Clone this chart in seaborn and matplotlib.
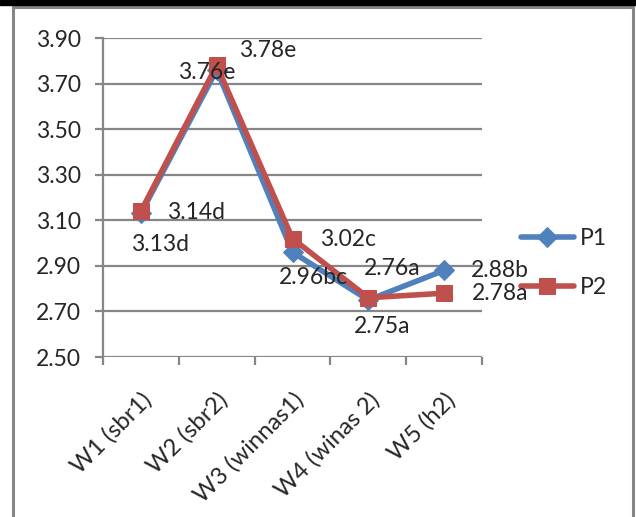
import matplotlib
matplotlib.use("Agg")
import matplotlib.pyplot as plt
from matplotlib.lines import Line2D
from matplotlib.patches import Rectangle
from matplotlib.transforms import ScaledTranslation
import seaborn as sns
import pandas as pd

# Weeks and the two treatment series
categories = ["W1 (sbr1)", "W2 (sbr2)", "W3 (winnas1)", "W4 (winas 2)", "W5 (h2)"]
p1_values = [3.13, 3.76, 2.96, 2.75, 2.88]
p2_values = [3.14, 3.78, 3.02, 2.76, 2.78]
p1_letters = ["d", "e", "bc", "a", "b"]
p2_letters = ["d", "e", "c", "a", "a"]
y_ticks = [2.50, 2.70, 2.90, 3.10, 3.30, 3.50, 3.70, 3.90]

BLUE = "#4F81BD"
RED = "#C0504D"
GRID = "#868686"
FONT = ["Lato", "DejaVu Sans"]
FS = 16.5
FS_X = 17.2

sns.set_theme(style="white")
plt.rcParams["font.family"] = FONT

W, H = 636, 517
fig = plt.figure(figsize=(W / 100, H / 100), dpi=100)
ax = fig.add_axes([103 / W, 1 - 357 / H, (482 - 103) / W, (357 - 38) / H])

pos = list(range(len(categories)))
df1 = pd.DataFrame({"pos": pos, "value": p1_values})
df2 = pd.DataFrame({"pos": pos, "value": p2_values})

for y in y_ticks:
    ax.axhline(y, color=GRID, lw=1.6, zorder=0)

sns.lineplot(data=df1, x="pos", y="value", ax=ax, color=BLUE, lw=4.0,
             marker="D", markersize=10, markeredgecolor=BLUE,
             markerfacecolor=BLUE, label="P1", zorder=3)
sns.lineplot(data=df2, x="pos", y="value", ax=ax, color=RED, lw=4.0,
             marker="s", markersize=12, markeredgecolor=RED,
             markerfacecolor=RED, label="P2", zorder=4)

ax.set_xlim(-0.5, len(categories) - 0.5)
ax.set_ylim(2.50, 3.90)
ax.set_yticks(y_ticks)
ax.set_yticklabels([f"{v:.2f}" for v in y_ticks], fontsize=FS)
ax.set_xticks([i - 0.5 for i in range(len(categories) + 1)])
ax.set_xticklabels([])
ax.set_xticks(pos, minor=True)
ax.set_xticklabels(categories, minor=True, rotation=45, ha="right",
                   va="top", rotation_mode="anchor", fontsize=FS_X)
shift = ScaledTranslation(6 / 100, 0, fig.dpi_scale_trans)
for lab in ax.get_xticklabels(minor=True):
    lab.set_transform(lab.get_transform() + shift)
ax.tick_params(axis="x", which="minor", length=0, pad=23)
ax.tick_params(axis="x", which="major", length=6, width=1.6, color=GRID,
               direction="out", bottom=True)
ax.tick_params(axis="y", length=6, width=1.6, color=GRID, direction="out",
               left=True, pad=10)
ax.set_xlabel("")
ax.set_ylabel("")
for side in ["top", "right", "bottom"]:
    ax.spines[side].set_visible(False)
ax.spines["left"].set_color(GRID)
ax.spines["left"].set_linewidth(1.6)
ax.grid(False)

# Data labels: value plus significance letter, offsets in points
p1_offsets = [(14, -22), (-7, -2), (15, -18), (10, -19), (40, 0)]
p2_offsets = [(40, -1), (37, 11), (40, -1), (17, 21), (40, 0)]
for i in pos:
    ax.annotate(f"{p1_values[i]:.2f}{p1_letters[i]}", (i, p1_values[i]),
                xytext=p1_offsets[i], textcoords="offset points",
                ha="center", va="center", fontsize=FS, zorder=6)
    ax.annotate(f"{p2_values[i]:.2f}{p2_letters[i]}", (i, p2_values[i]),
                xytext=p2_offsets[i], textcoords="offset points",
                ha="center", va="center", fontsize=FS, zorder=6)

leg = ax.legend(loc="center left", bbox_to_anchor=(521 / W, 1 - 263 / H),
                bbox_transform=fig.transFigure, frameon=False, fontsize=FS,
                handlelength=2.3, handletextpad=0.25, labelspacing=1.2,
                borderpad=0, borderaxespad=0)

# Chart frame
fig.patches.append(Rectangle((0, 1 - 5 / H), 1, 5 / H, transform=fig.transFigure,
                             color="black", zorder=10))
frame_kw = dict(transform=fig.transFigure, color=GRID, lw=2.2, zorder=10)
fig.lines.append(Line2D([13 / W, 633 / W], [1 - 6.5 / H, 1 - 6.5 / H], **frame_kw))
fig.lines.append(Line2D([13 / W, 13 / W], [0, 1 - 6.5 / H], **frame_kw))
fig.lines.append(Line2D([633 / W, 633 / W], [0, 1 - 6.5 / H], **frame_kw))

fig.savefig("out.png", dpi=100)
